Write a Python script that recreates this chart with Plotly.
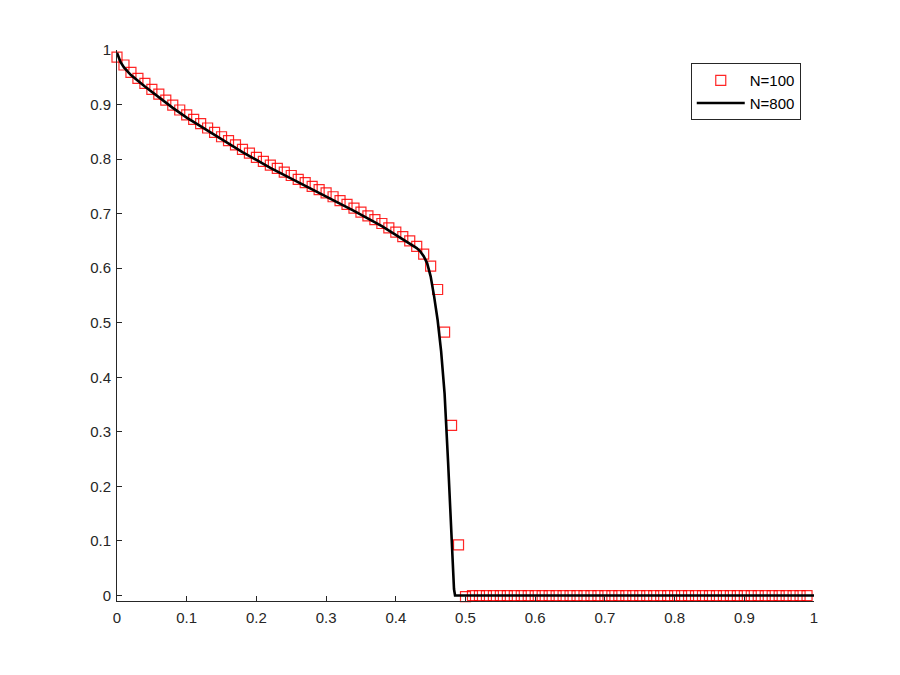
import plotly.graph_objects as go

# N=100 solution (cell values)
x_coarse = [i / 100 for i in range(100)]
u_coarse = [0.987, 0.9725, 0.959, 0.948, 0.939, 0.928, 0.919, 0.908, 0.899, 0.890,
            0.881, 0.873, 0.865, 0.857, 0.849, 0.841, 0.834, 0.826, 0.818, 0.811,
            0.803, 0.796, 0.789, 0.783, 0.776, 0.770, 0.763, 0.757, 0.750, 0.744,
            0.738, 0.731, 0.724, 0.717, 0.710, 0.703, 0.696, 0.689, 0.682, 0.674,
            0.666, 0.658, 0.650, 0.640, 0.626, 0.604, 0.561, 0.483, 0.312, 0.093,
            -0.002] + [0.0] * 49

# N=800 reference solution
x_fine = [0, 0.005, 0.01, 0.02, 0.04, 0.06, 0.08, 0.10, 0.14, 0.18, 0.22, 0.26,
          0.30, 0.34, 0.38, 0.40, 0.42, 0.43, 0.435, 0.44, 0.445, 0.45, 0.455,
          0.46, 0.465, 0.47, 0.475, 0.48, 0.4835, 0.485, 0.49, 1.0]
u_fine = [0.995, 0.978, 0.968, 0.954, 0.933, 0.913, 0.894, 0.876, 0.844, 0.813,
          0.784, 0.758, 0.732, 0.705, 0.677, 0.661, 0.646, 0.637, 0.631, 0.622,
          0.609, 0.585, 0.548, 0.505, 0.448, 0.370, 0.245, 0.095, 0.012, 0.0,
          0.0, 0.0]

x_ticks = [0, 0.1, 0.2, 0.3, 0.4, 0.5, 0.6, 0.7, 0.8, 0.9, 1]
x_ticktext = ['0', '0.1', '0.2', '0.3', '0.4', '0.5', '0.6', '0.7', '0.8', '0.9', '1']
y_ticks = [0, 0.1, 0.2, 0.3, 0.4, 0.5, 0.6, 0.7, 0.8, 0.9, 1]
y_ticktext = ['0', '0.1', '0.2', '0.3', '0.4', '0.5', '0.6', '0.7', '0.8', '0.9', '1']

fig = go.Figure()

fig.add_trace(go.Scatter(
    x=x_coarse, y=u_coarse, mode='markers', name='N=100',
    marker=dict(symbol='square-open', size=10, color='rgba(255,0,0,0.85)',
                line=dict(width=1.2)),
    cliponaxis=False,
))

fig.add_trace(go.Scatter(
    x=x_fine, y=u_fine, mode='lines', name='N=800',
    line=dict(color='black', width=2.6),
    cliponaxis=False,
))

axis_style = dict(
    showgrid=False, zeroline=False, showline=True, linecolor='#262626', linewidth=1,
    ticks='inside', ticklen=5, tickcolor='#262626', tickwidth=1,
    tickfont=dict(family='Liberation Sans, Arial, sans-serif', size=15, color='#262626'),
)

fig.update_xaxes(range=[0, 1], tickvals=x_ticks, ticktext=x_ticktext,
                 ticklabelstandoff=3, **axis_style)
fig.update_yaxes(range=[-0.01, 1.0], tickvals=y_ticks, ticktext=y_ticktext,
                 ticklabelstandoff=2, **axis_style)

# page body adds an 8px offset, so margins are shifted accordingly
fig.update_layout(
    width=900, height=675,
    plot_bgcolor='white', paper_bgcolor='white',
    margin=dict(l=109, r=94, t=42, b=82),
    font=dict(family='Liberation Sans, Arial, sans-serif', size=15, color='black'),
    legend=dict(
        x=0.981, y=0.976, xanchor='right', yanchor='top',
        bgcolor='white', bordercolor='#262626', borderwidth=1,
        font=dict(size=15, color='black'),
        itemwidth=48, tracegroupgap=0,
    ),
)

fig.write_html("out.html")
